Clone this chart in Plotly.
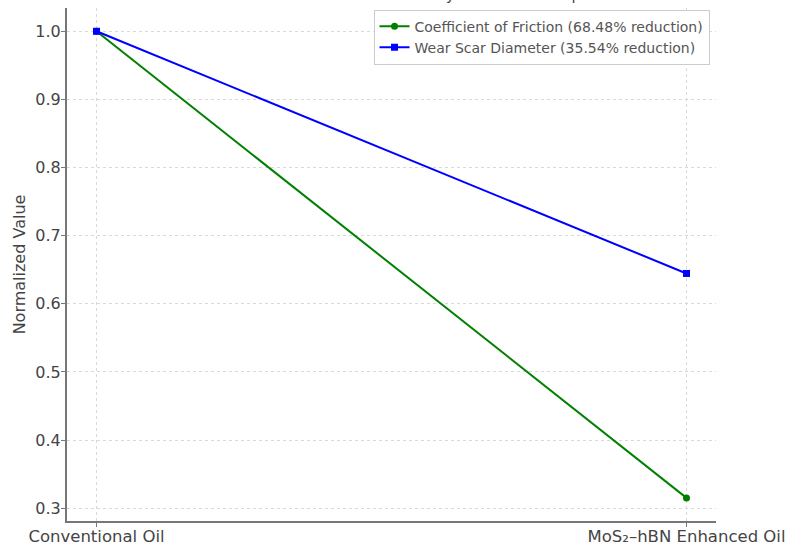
import plotly.graph_objects as go

categories = ["Conventional Oil", "MoS₂–hBN Enhanced Oil"]
cof_values = [1.0, 0.3152]
wsd_values = [1.0, 0.6446]
cof_name = "Coefficient of Friction (68.48% reduction)"
wsd_name = "Wear Scar Diameter (35.54% reduction)"
y_ticks = [0.3, 0.4, 0.5, 0.6, 0.7, 0.8, 0.9, 1.0]
title_text = "Normalized Friction and Wear Efficiency – Relative Comparison"

x_idx = list(range(len(categories)))

fig = go.Figure()
fig.add_trace(go.Scatter(
    x=x_idx, y=cof_values, name=cof_name, mode="lines+markers",
    line=dict(color="#008000", width=2),
    marker=dict(symbol="circle", size=7, color="#008000"),
))
fig.add_trace(go.Scatter(
    x=x_idx, y=wsd_values, name=wsd_name, mode="lines+markers",
    line=dict(color="#0000ff", width=2),
    marker=dict(symbol="square", size=7, color="#0000ff"),
))

grid = dict(showgrid=True, gridcolor="#d9d9d9", gridwidth=1, griddash="3px,3px")
fig.update_xaxes(
    range=[-0.05, 1.05], tickvals=x_idx, ticktext=categories,
    showline=True, linecolor="#777777", linewidth=2,
    ticks="outside", ticklen=4, tickcolor="#777777",
    zeroline=False, automargin=False, ticklabelstandoff=-5,
    tickfont=dict(size=16.5, color="#444444"), **grid,
)
fig.update_yaxes(
    range=[0.2813, 1.0342], tickvals=y_ticks,
    ticktext=[f"{v:.1f}" for v in y_ticks],
    showline=True, linecolor="#777777", linewidth=2,
    ticks="outside", ticklen=4, tickcolor="#777777",
    zeroline=False, automargin=False, ticklabelstandoff=-3,
    tickfont=dict(size=16, color="#444444"),
    title=dict(text="Normalized Value", font=dict(size=16, color="#444444"), standoff=6),
    **grid,
)

fig.add_annotation(
    text=title_text, xref="paper", yref="paper", x=0.5, y=1.0,
    xanchor="center", yanchor="bottom", yshift=2, showarrow=False,
    font=dict(size=15, color="#444444"),
)

fig.update_layout(
    width=788, height=545,
    margin=dict(l=67, r=72, t=8, b=24),
    plot_bgcolor="white", paper_bgcolor="white",
    font=dict(family="DejaVu Sans", color="#444444"),
    showlegend=True,
    legend=dict(
        x=0.99, y=0.997, xanchor="right", yanchor="top",
        bgcolor="rgba(255,255,255,0.9)", bordercolor="#cccccc", borderwidth=1,
        font=dict(size=14, color="#555555"),
        tracegroupgap=0,
    ),
)

fig.write_html(
    "out.html",
    config={"displayModeBar": False},
    post_script="document.body.style.margin='0px';",
)
